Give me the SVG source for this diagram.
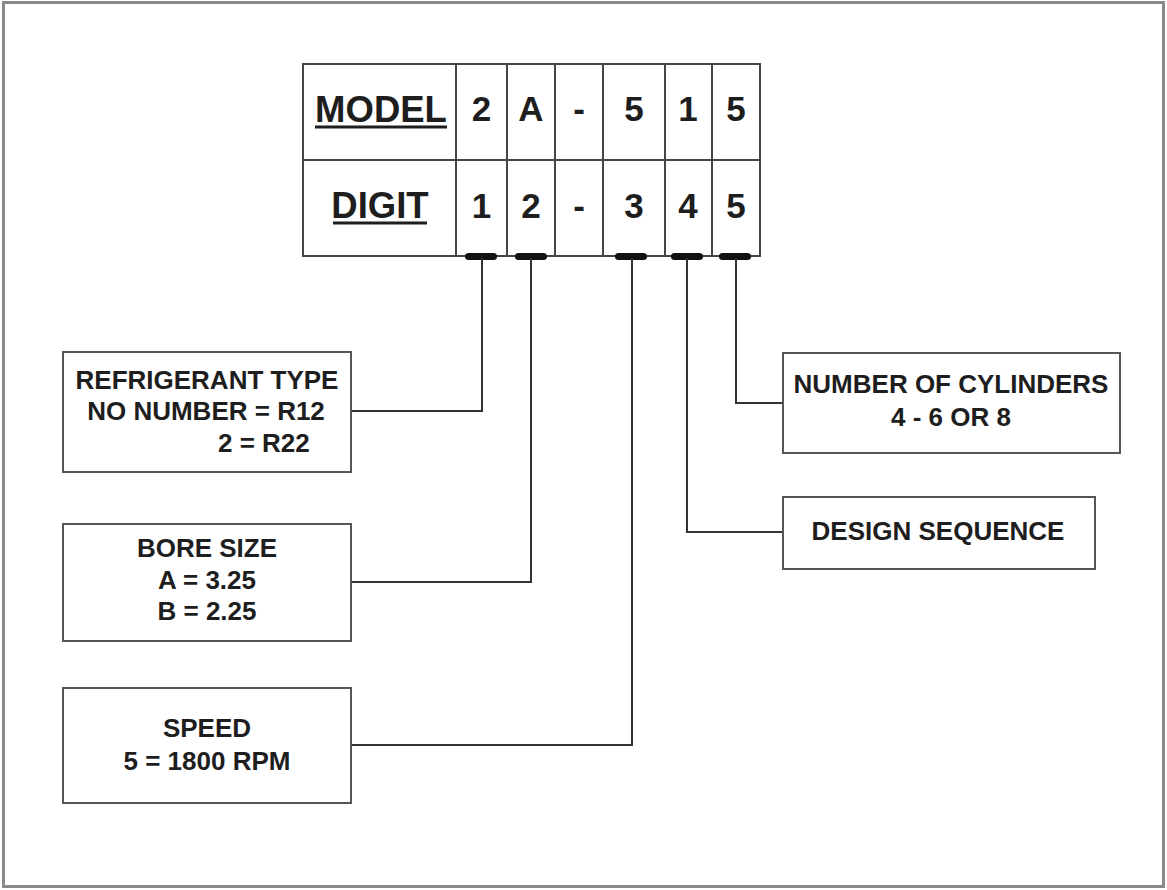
<svg xmlns="http://www.w3.org/2000/svg" width="1167" height="890" viewBox="0 0 1167 890">
<style>
  .frame { fill: #ffffff; stroke: #8a8a8a; stroke-width: 3; }
  .box { fill: #ffffff; stroke: #555555; stroke-width: 2; }
  .grid { fill: none; stroke: #444444; stroke-width: 2; }
  .conn { fill: none; stroke: #333333; stroke-width: 2; }
  .tab { fill: #111111; }
  .lbl { font-family: "Liberation Sans", Arial, sans-serif; font-weight: bold; font-size: 26px; fill: #1e1e1e; text-anchor: middle; }
  .hdr { font-family: "Liberation Sans", Arial, sans-serif; font-weight: bold; font-size: 36.5px; fill: #1e1e1e; text-anchor: middle; }
  .dig { font-family: "Liberation Sans", Arial, sans-serif; font-weight: bold; font-size: 35px; fill: #1e1e1e; text-anchor: middle; }
  .ul { stroke: #1e1e1e; stroke-width: 3; }
</style>
<rect x="0" y="0" width="1167" height="890" fill="#ffffff"/>
<rect class="frame" x="3.5" y="2.5" width="1160" height="884"/>

<g id="model-table">
  <rect class="grid" x="303" y="64" width="457" height="192"/>
  <line class="grid" x1="303" y1="160" x2="760" y2="160"/>
  <line class="grid" x1="456" y1="64" x2="456" y2="256"/>
  <line class="grid" x1="507" y1="64" x2="507" y2="256"/>
  <line class="grid" x1="555" y1="64" x2="555" y2="256"/>
  <line class="grid" x1="603" y1="64" x2="603" y2="256"/>
  <line class="grid" x1="665" y1="64" x2="665" y2="256"/>
  <line class="grid" x1="712" y1="64" x2="712" y2="256"/>
  <text class="hdr" x="381" y="122">MODEL</text>
  <line class="ul" x1="315" y1="127" x2="447" y2="127"/>
  <text class="hdr" x="380" y="218">DIGIT</text>
  <line class="ul" x1="333" y1="223" x2="427" y2="223"/>
  <text class="dig" x="481.5" y="121">2</text>
  <text class="dig" x="531" y="121">A</text>
  <text class="dig" x="579" y="121">-</text>
  <text class="dig" x="634" y="121">5</text>
  <text class="dig" x="688" y="121">1</text>
  <text class="dig" x="736" y="121">5</text>
  <text class="dig" x="481.5" y="218">1</text>
  <text class="dig" x="531" y="218">2</text>
  <text class="dig" x="579" y="218">-</text>
  <text class="dig" x="634" y="218">3</text>
  <text class="dig" x="688" y="218">4</text>
  <text class="dig" x="736" y="218">5</text>
</g>

<g id="connectors">
  <rect class="tab" x="465" y="253" width="32" height="7" rx="3.5"/>
  <rect class="tab" x="515" y="253" width="32" height="7" rx="3.5"/>
  <rect class="tab" x="615" y="253" width="32" height="7" rx="3.5"/>
  <rect class="tab" x="671" y="253" width="32" height="7" rx="3.5"/>
  <rect class="tab" x="719" y="253" width="32" height="7" rx="3.5"/>
  <polyline class="conn" points="482,258 482,411 351,411"/>
  <polyline class="conn" points="531,258 531,582 351,582"/>
  <polyline class="conn" points="632,258 632,745 351,745"/>
  <polyline class="conn" points="687,258 687,532 783,532"/>
  <polyline class="conn" points="736,258 736,403 783,403"/>
</g>

<g id="refrigerant-type">
  <rect class="box" x="63" y="352" width="288" height="120"/>
  <text class="lbl" x="207" y="389">REFRIGERANT TYPE</text>
  <text class="lbl" x="206" y="420">NO NUMBER = R12</text>
  <text class="lbl" x="218" y="452" style="text-anchor:start">2 = R22</text>
</g>

<g id="bore-size">
  <rect class="box" x="63" y="524" width="288" height="117"/>
  <text class="lbl" x="207" y="557">BORE SIZE</text>
  <text class="lbl" x="207" y="589">A = 3.25</text>
  <text class="lbl" x="207" y="620">B = 2.25</text>
</g>

<g id="speed">
  <rect class="box" x="63" y="688" width="288" height="115"/>
  <text class="lbl" x="207" y="737">SPEED</text>
  <text class="lbl" x="207" y="770">5 = 1800 RPM</text>
</g>

<g id="number-of-cylinders">
  <rect class="box" x="783" y="353" width="337" height="100"/>
  <text class="lbl" x="951" y="393">NUMBER OF CYLINDERS</text>
  <text class="lbl" x="951" y="426">4 - 6 OR 8</text>
</g>

<g id="design-sequence">
  <rect class="box" x="783" y="497" width="312" height="72"/>
  <text class="lbl" x="938" y="540">DESIGN SEQUENCE</text>
</g>
</svg>
